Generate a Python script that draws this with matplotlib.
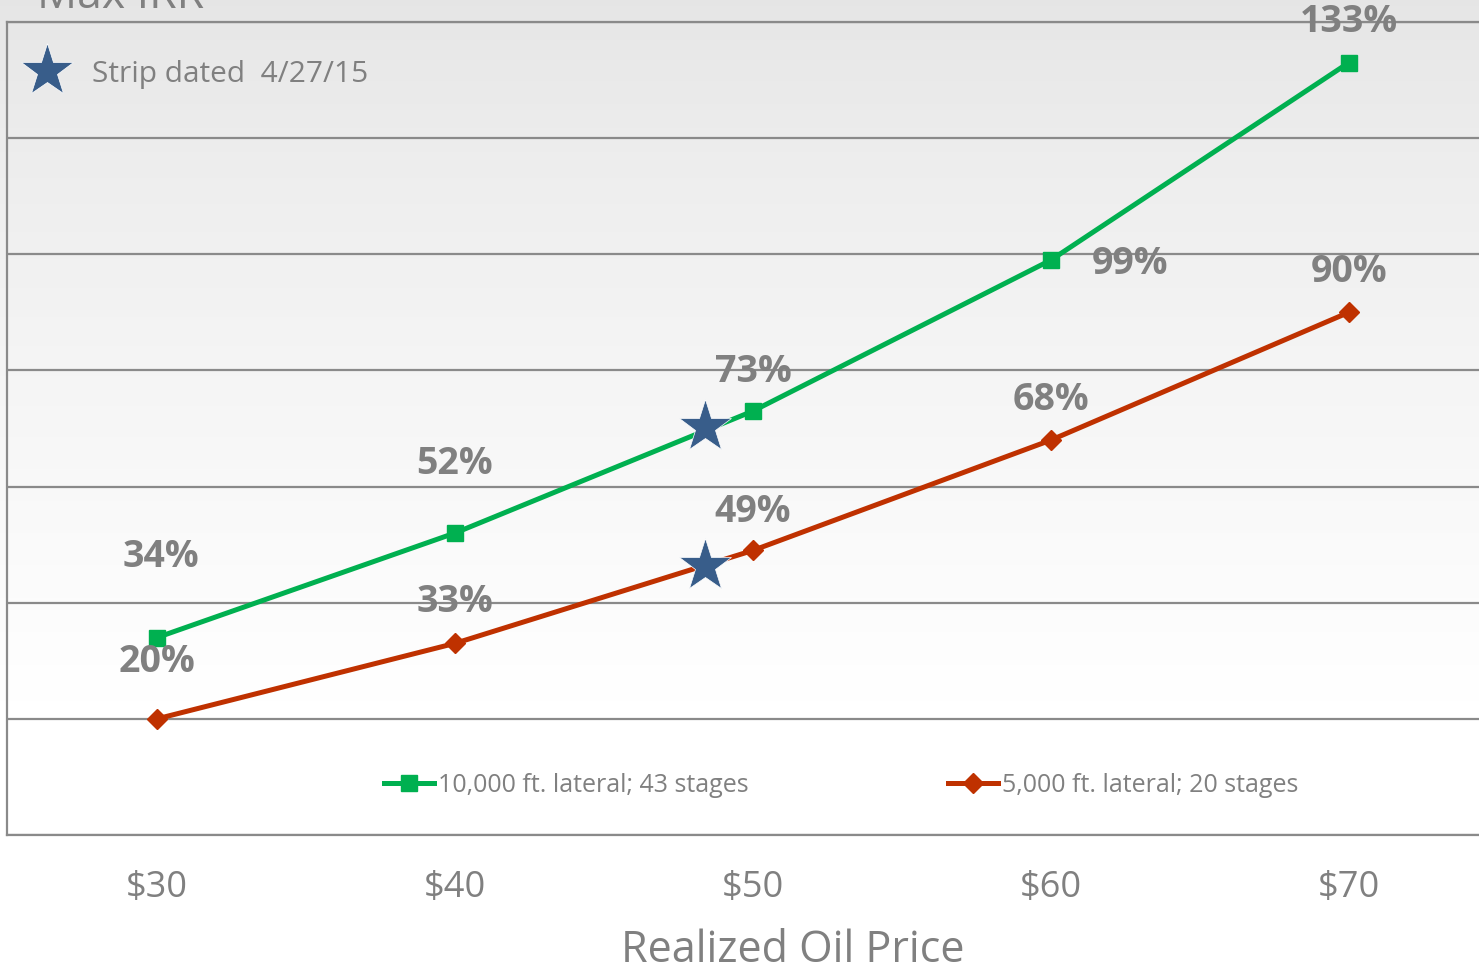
import numpy as np
import matplotlib
matplotlib.use("Agg")
import matplotlib.pyplot as plt
from matplotlib.lines import Line2D

prices = [30, 40, 50, 60, 70]
irr_10k = [34, 52, 73, 99, 133]
irr_5k = [20, 33, 49, 68, 90]
tick_labels = ["$30", "$40", "$50", "$60", "$70"]
strip_price = 48.4
strip_10k = 70.2
strip_5k = 46.4
series_names = ["10,000 ft. lateral; 43 stages", "5,000 ft. lateral; 20 stages"]

GREEN = "#00b050"
RED = "#bf3100"
BLUE = "#385d8a"
GRAY = "#808080"
GRID = "#8a8a8a"
FONT = "Open Sans"

W, H = 1479, 975
fig = plt.figure(figsize=(W / 100, H / 100), dpi=100)

# background gradient (figure level)
bg = fig.add_axes([0, 0, 1, 1], zorder=-10)
bg.axis("off")
ys = np.linspace(0, 1, 400)
vals = np.clip((ys * H) / 700.0, 0, 1)
col = 0.9 + (1.0 - 0.9) * vals ** 0.8
col[ys * H > 835] = 1.0
img = np.repeat(col[:, None], 2, axis=1)
bg.imshow(np.dstack([img, img, img]), aspect="auto", extent=[0, 1, 0, 1],
          origin="upper", interpolation="bilinear")
bg.set_xlim(0, 1)
bg.set_ylim(0, 1)

ax = fig.add_axes([7 / W, (H - 835) / H, (W - 7) / W + 0.01, (835 - 22) / H])
ax.patch.set_alpha(0)
ax.set_xlim(30 - 150 / 29.8, 30 + (W + 15 - 157) / 29.8)
ax.set_ylim(0, 140)
ax.set_yticks(np.arange(0, 141, 20))
ax.set_yticklabels([])
ax.tick_params(axis="y", length=0)
ax.grid(axis="y", color=GRID, linewidth=1.6, zorder=0)
for s in ["left", "bottom", "top"]:
    ax.spines[s].set_color(GRID)
    ax.spines[s].set_linewidth(1.6)
ax.spines["right"].set_visible(False)

ax.set_xticks(prices)
ax.set_xticklabels(tick_labels, fontsize=26, color=GRAY, family=FONT)
ax.tick_params(axis="x", length=0, pad=25.5)
ax.set_xlabel("Realized Oil Price", fontsize=31, color=GRAY, family=FONT)
ax.xaxis.set_label_coords(793 / W, 1 - 929 / H, transform=fig.transFigure)

l1, = ax.plot(prices, irr_10k, color=GREEN, lw=3.6, marker="s", ms=12,
              mfc=GREEN, mec=GREEN, zorder=3, clip_on=False)
l2, = ax.plot(prices, irr_5k, color=RED, lw=3.6, marker="D", ms=10,
              mfc=RED, mec=RED, zorder=3, clip_on=False)

ax.plot([strip_price, strip_price], [strip_10k, strip_5k], ls="none", marker="*",
        ms=40, color=BLUE, mec="white", mew=0.5, zorder=4)

# data labels (offsets in points)
lab_kw = dict(textcoords="offset points", ha="center", va="center",
              fontsize=27, fontweight="bold", color=GRAY, family=FONT, zorder=5)
off_10k = [(3, 58), (0, 50), (0, 28), (57, -3), (0, 29)]
off_5k = [(0, 41), (0, 30), (0, 28), (0, 29), (0, 29)]
for x, y, o in zip(prices, irr_10k, off_10k):
    ax.annotate(f"{y}%", (x, y), xytext=o, **lab_kw)
for x, y, o in zip(prices, irr_5k, off_5k):
    ax.annotate(f"{y}%", (x, y), xytext=o, **lab_kw)

# strip dated note
ax.plot([0.027], [0.94], transform=ax.transAxes, marker="*", ms=40, color=BLUE,
        mec="white", mew=0.5, ls="none", clip_on=False)
ax.text(0.057, 0.936, "Strip dated  4/27/15", transform=ax.transAxes,
        fontsize=21.5, color=GRAY, family=FONT, va="center", ha="left")

h1 = Line2D([], [], color=GREEN, lw=3.6, marker="s", ms=12)
h2 = Line2D([], [], color=RED, lw=3.6, marker="D", ms=10)
leg = ax.legend([h1, h2], series_names, ncol=2, frameon=False,
                loc="center left", bbox_to_anchor=(0.2385, (835 - 785) / 813),
                prop={"family": FONT, "size": 18}, labelcolor=GRAY,
                handlelength=2.0, handletextpad=0.15, columnspacing=8.0)

fig.text(37 / W, 1 - 8 / H, "Max IRR", fontsize=32, color=GRAY, family=FONT,
         va="baseline", ha="left")

fig.savefig("out.png", dpi=100)
